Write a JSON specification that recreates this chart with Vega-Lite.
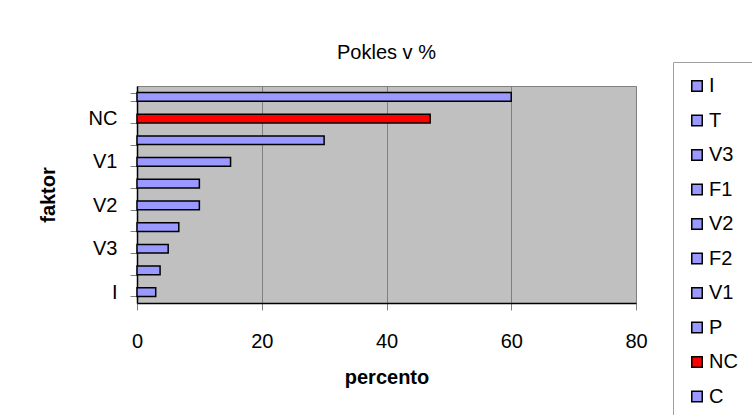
{
  "$schema": "https://vega.github.io/schema/vega-lite/v6.json",
  "width": 499,
  "height": 217,
  "autosize": {"type": "none"},
  "padding": {"left": 137, "top": 86, "right": 116, "bottom": 112},
  "background": "white",
  "config": {
    "font": "Liberation Sans",
    "view": {"fill": "#C0C0C0", "stroke": "#808080", "strokeWidth": 1}
  },
  "title": {
    "text": "Pokles v %",
    "fontSize": 20,
    "fontWeight": "normal",
    "font": "Liberation Sans",
    "color": "black",
    "offset": -1,
    "anchor": "middle"
  },
  "data": {
    "values": [
      {"faktor": "I", "percento": 3},
      {"faktor": "T", "percento": 3.7},
      {"faktor": "V3", "percento": 5},
      {"faktor": "F1", "percento": 6.7},
      {"faktor": "V2", "percento": 10},
      {"faktor": "F2", "percento": 10},
      {"faktor": "V1", "percento": 15},
      {"faktor": "P", "percento": 30},
      {"faktor": "NC", "percento": 47},
      {"faktor": "C", "percento": 60}
    ]
  },
  "mark": {"type": "bar", "stroke": "black", "strokeWidth": 1.5},
  "encoding": {
    "y": {
      "field": "faktor",
      "type": "nominal",
      "sort": ["C", "NC", "P", "V1", "F2", "V2", "F1", "V3", "T", "I"],
      "scale": {"paddingInner": 0.6, "paddingOuter": 0.3},
      "axis": {
        "title": "faktor",
        "titleFontSize": 20,
        "titleFontWeight": "bold",
        "titleColor": "black",
        "titlePadding": 30,
        "labelFontSize": 20,
        "labelColor": "black",
        "labelPadding": 13,
        "labelExpr": "indexof(['I','V3','V2','V1','NC'], datum.value) >= 0 ? datum.value : ''",
        "tickBand": "extent",
        "tickSize": 7,
        "tickColor": "#808080",
        "domainColor": "black",
        "domainWidth": 1.5,
        "grid": false
      }
    },
    "x": {
      "field": "percento",
      "type": "quantitative",
      "scale": {"domain": [0, 80], "nice": false},
      "axis": {
        "title": "percento",
        "titleFontSize": 20,
        "titleFontWeight": "bold",
        "titleColor": "black",
        "titlePadding": 16,
        "values": [0, 20, 40, 60, 80],
        "labelFontSize": 20,
        "labelColor": "black",
        "labelPadding": 21,
        "labelFlush": false,
        "tickSize": 7,
        "tickColor": "#808080",
        "domainColor": "black",
        "domainWidth": 1.5,
        "grid": true,
        "gridColor": "#808080",
        "gridWidth": 1
      }
    },
    "color": {
      "field": "faktor",
      "type": "nominal",
      "scale": {
        "domain": ["I", "T", "V3", "F1", "V2", "F2", "V1", "P", "NC", "C"],
        "range": ["#9999FF", "#9999FF", "#9999FF", "#9999FF", "#9999FF", "#9999FF", "#9999FF", "#9999FF", "#FF0000", "#9999FF"]
      },
      "legend": {
        "title": null,
        "orient": "none",
        "legendX": 536,
        "legendY": -24,
        "padding": 14,
        "strokeColor": "#A0A0A0",
        "fillColor": "white",
        "symbolType": "square",
        "symbolSize": 110,
        "symbolStrokeColor": "black",
        "symbolStrokeWidth": 1.5,
        "symbolOpacity": 1,
        "labelFontSize": 20,
        "labelColor": "black",
        "labelOffset": 2,
        "rowPadding": 14.5,
        "labelLimit": 60
      }
    }
  }
}
